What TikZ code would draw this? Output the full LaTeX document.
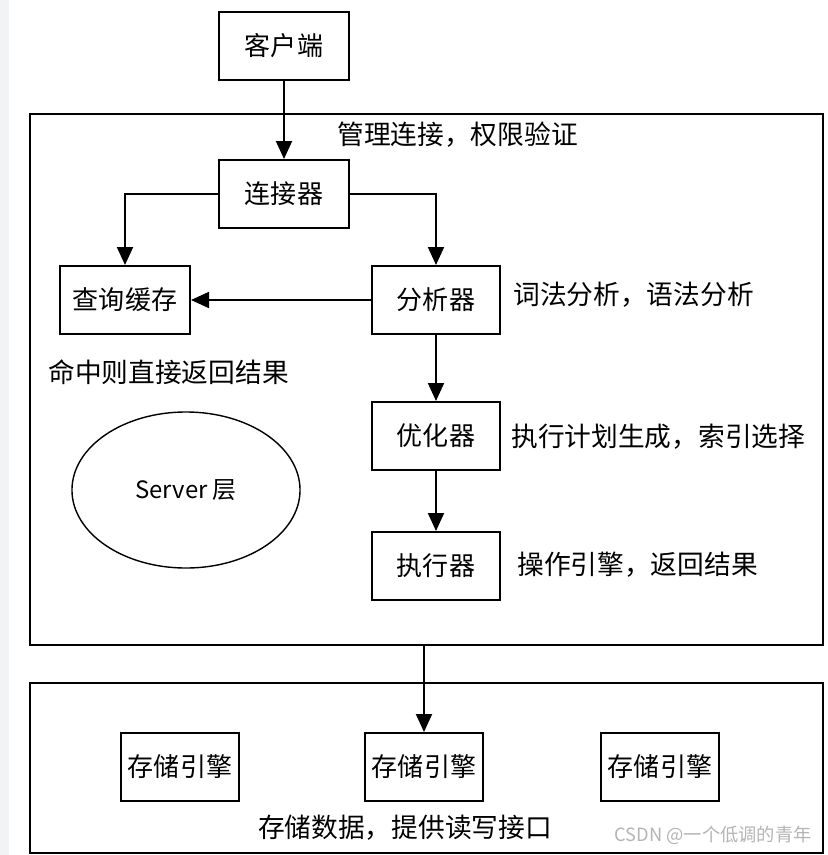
\documentclass[tikz,border=0pt]{standalone}
\usepackage{fontspec}
\setmainfont{Noto Sans CJK SC}
\usetikzlibrary{arrows.meta,shapes.geometric}
\definecolor{stripgray}{HTML}{F2F3F5}
\definecolor{markgray}{HTML}{B4B4B4}
\tikzset{
  box/.style={draw, line width=1.4pt, minimum width=3.25cm, minimum height=1.7cm, inner sep=0pt, font=\fontsize{18.5}{20}\selectfont},
  engine/.style={box, minimum width=2.95cm},
  frame/.style={draw, line width=1.4pt, minimum width=19.825cm, inner sep=0pt},
  note/.style={inner sep=0pt, font=\fontsize{19}{21}\selectfont},
  arr/.style={-{Triangle[length=0.45cm,width=0.4cm]}, line width=1.4pt}
}
\begin{document}
\begin{tikzpicture}[x=0.025cm, y=-0.025cm]
  \useasboundingbox (0,0) rectangle (828,855);
  \fill[stripgray] (0,0) rectangle (9,855);

  % layers
  \node[frame, minimum height=13.275cm] (server) at (426.5,379.5) {};
  \node[frame, minimum height=4.25cm] (store) at (426.5,768) {};

  % server side
  \node[box] (client) at (284,46) {客户端};
  \node[box] (conn) at (284,194) {连接器};
  \node[box] (cache) at (125,300) {查询缓存};
  \node[box, minimum width=3.2cm] (ana) at (436,300) {分析器};
  \node[box, minimum width=3.2cm] (opt) at (436,436) {优化器};
  \node[box, minimum width=3.2cm] (exec) at (436,566) {执行器};
  \node[draw, ellipse, line width=1pt, minimum width=5.7cm, minimum height=3.9cm,
        font=\fontsize{17}{19}\selectfont] (layer) at (186,490) {Server 层};

  \node[note, anchor=west] (connnote) at (337,135) {管理连接，权限验证};
  \node[note, anchor=west] (ananote) at (513,295) {词法分析，语法分析};
  \node[note, anchor=west] (cachenote) at (48,372) {命中则直接返回结果};
  \node[note, anchor=west] (optnote) at (511,437) {执行计划生成，索引选择};
  \node[note, anchor=west] (execnote) at (517,565) {操作引擎，返回结果};

  % storage side
  \node[engine] (st1) at (180,767) {存储引擎};
  \node[engine] (st2) at (424,767) {存储引擎};
  \node[engine] (st3) at (660,767) {存储引擎};
  \node[note] (stnote) at (405,828) {存储数据，提供读写接口};
  \node[inner sep=0pt, anchor=east, text=markgray, font=\fontsize{13}{15}\selectfont] (mark) at (812,835) {CSDN @一个低调的青年};

  % connectors
  \draw[arr] (client) -- (conn);
  \draw[arr] (conn.west) -| (cache.north);
  \draw[arr] (conn.east) -| (ana.north);
  \draw[arr] (ana) -- (cache);
  \draw[arr] (ana) -- (opt);
  \draw[arr] (opt) -- (exec);
  \draw[arr] (st2.north |- server.south) -- (st2.north);
\end{tikzpicture}
\end{document}
